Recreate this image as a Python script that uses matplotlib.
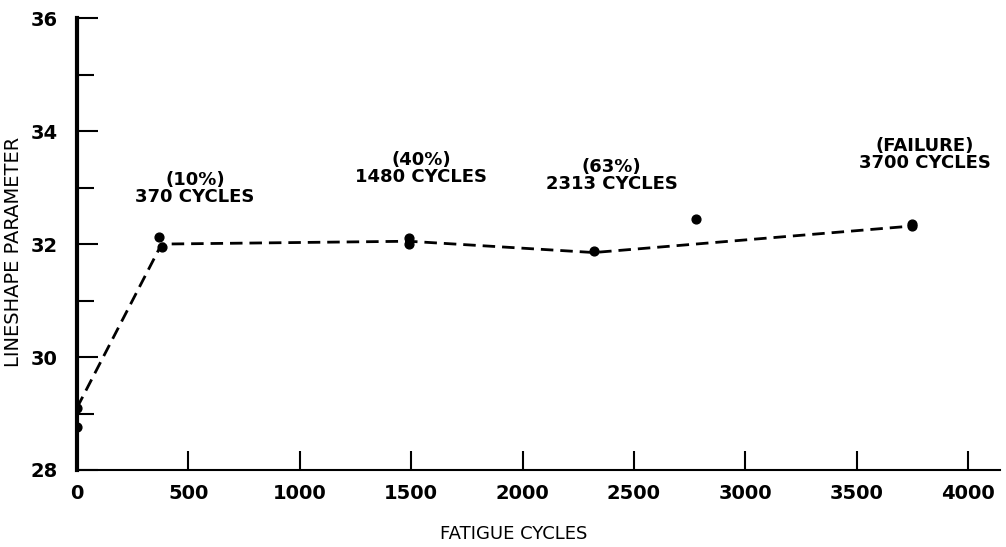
import matplotlib
matplotlib.use("Agg")
import matplotlib.pyplot as plt
from matplotlib.ticker import MultipleLocator

# data
point_x = [0, 0, 370, 380, 1490, 1490, 2320, 2780, 3750, 3750]
point_y = [28.76, 29.1, 32.12, 31.95, 32.1, 32.0, 31.88, 32.45, 32.32, 32.36]
line_x = [0, 380, 1490, 2320, 3750]
line_y = [29.1, 32.0, 32.05, 31.85, 32.32]
label_x = [530, 1545, 2400, 3806]
label_y = [32.67, 33.03, 32.9, 33.27]
label_text = ["(10%)\n370 CYCLES", "(40%)\n1480 CYCLES", "(63%)\n2313 CYCLES", "(FAILURE)\n3700 CYCLES"]
x_ticks = [0, 500, 1000, 1500, 2000, 2500, 3000, 3500, 4000]
y_ticks = [28, 30, 32, 34, 36]

FONT = ["DejaVu Sans"]
plt.rcParams["font.family"] = FONT

fig = plt.figure(figsize=(10.06, 5.47), dpi=100)
ax = fig.add_axes([0.0765, 0.1408, 0.9175, 0.826])

ax.plot(line_x, line_y, color="black", lw=2.0, dashes=(4.5, 2.5))
ax.scatter(point_x, point_y, s=40, color="black", zorder=3)

for x, y, t in zip(label_x, label_y, label_text):
    ax.text(x, y, t, ha="center", va="bottom", fontsize=13, fontweight="bold",
            linespacing=0.95)

ax.set_xlim(0, 4143)
ax.set_ylim(28, 36)
ax.set_xticks(x_ticks)
ax.set_yticks(y_ticks)
ax.yaxis.set_minor_locator(MultipleLocator(1))
ax.tick_params(axis="both", which="both", direction="in", width=1.5)
ax.tick_params(axis="x", which="major", length=14, pad=10)
ax.tick_params(axis="y", which="major", length=15, pad=14)
ax.tick_params(axis="y", which="minor", length=12)
for lab in ax.get_xticklabels() + ax.get_yticklabels():
    lab.set_fontsize(14)
    lab.set_fontweight("bold")

for s in ["top", "right"]:
    ax.spines[s].set_visible(False)
ax.spines["left"].set_linewidth(3)
ax.spines["bottom"].set_linewidth(1.5)

ax.set_ylabel("LINESHAPE PARAMETER", fontsize=14)
ax.yaxis.set_label_coords(-0.0585, 0.482)
ax.set_xlabel("FATIGUE CYCLES", fontsize=13)
ax.xaxis.set_label_coords(0.473, -0.122)

fig.savefig("out.png", dpi=100)
